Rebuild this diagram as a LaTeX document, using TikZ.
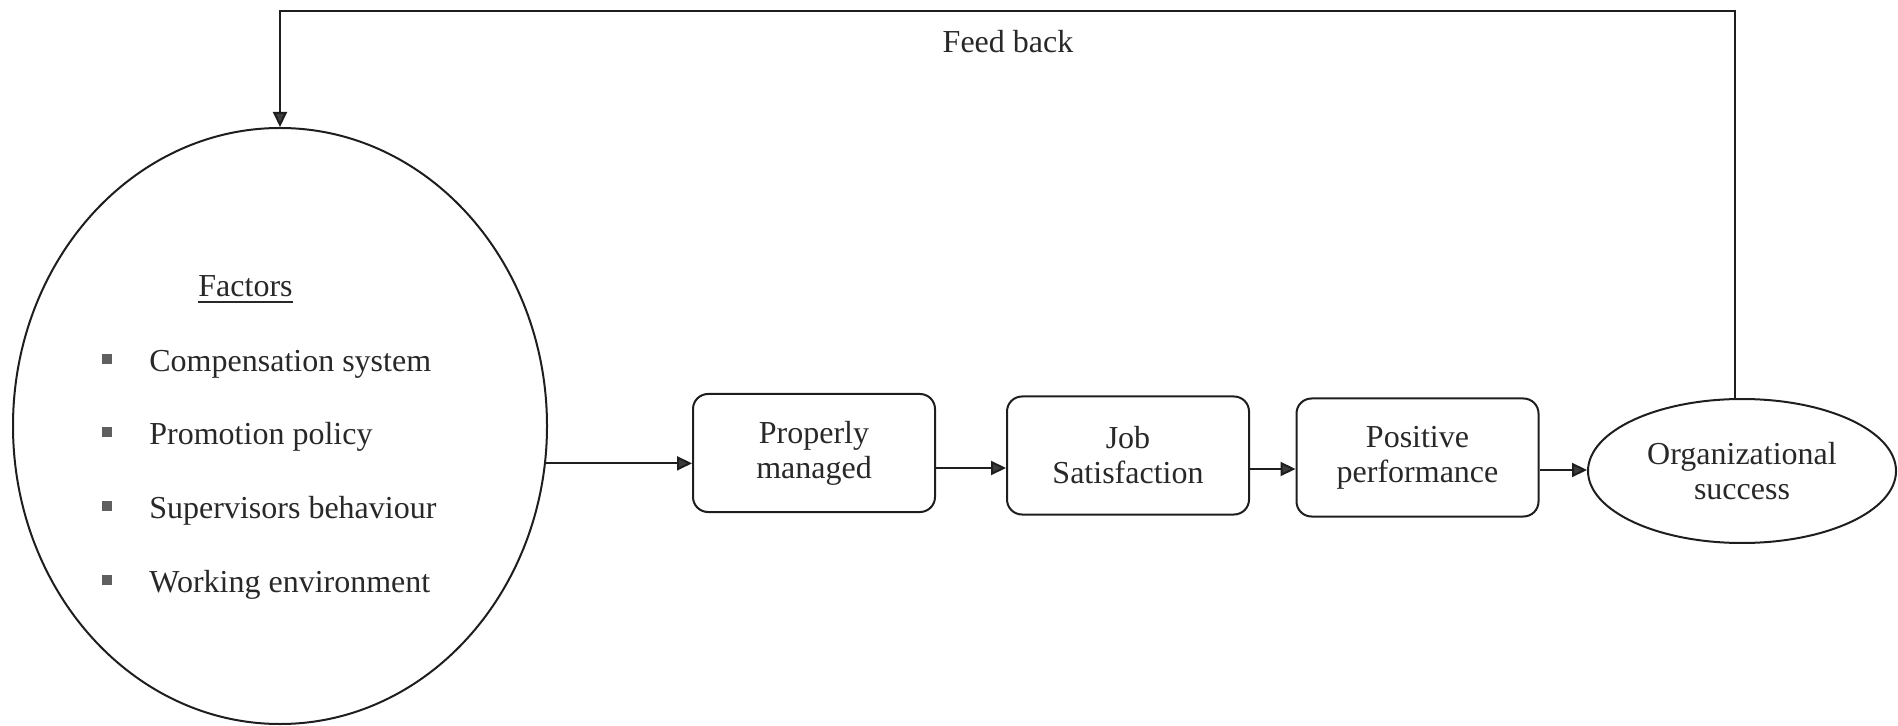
\documentclass[tikz,border=0pt]{standalone}
\usepackage{fontspec}
\setmainfont{Liberation Serif}
\usetikzlibrary{shapes.geometric,arrows.meta}
\definecolor{ink}{RGB}{30,30,30}
\definecolor{txt}{RGB}{40,40,40}
\definecolor{tipc}{RGB}{60,60,60}
\definecolor{bulc}{RGB}{95,95,95}
\begin{document}
\begin{tikzpicture}[x=0.5pt,y=-0.5pt,
  every node/.style={text=txt,font=\fontsize{16}{17.5}\selectfont},
  line/.style={draw=ink,line width=1pt},
  arr/.style={line,-{Triangle[length=7.5pt,width=7pt,fill=tipc]}},
  stepbox/.style={line,rounded corners=7.5pt,minimum width=121pt,minimum height=59pt,inner sep=0pt,align=center},
  oval/.style={line,ellipse,inner sep=0pt,align=center},
  item/.style={anchor=base west,inner sep=0pt},
  bul/.style={fill=bulc,minimum size=5pt,inner sep=0pt}
]
\useasboundingbox (0,0) rectangle (1898,726);

% factors ellipse with its list
\node[oval,minimum width=267pt,minimum height=298pt] (fac) at (280,426) {};
\node[anchor=base,inner sep=0pt] (ft) at (245.5,296.5) {Factors};
\draw[line,line width=0.6pt,draw=txt] ([yshift=-2.75pt]ft.base west) -- ([yshift=-2.75pt]ft.base east);

\node[bul] (u1) at (107,359) {};
\node[item] (i1) at (149,371.5) {Compensation system};
\node[bul] (u2) at (107,432) {};
\node[item] (i2) at (149,444.5) {Promotion policy};
\node[bul] (u3) at (107,506) {};
\node[item] (i3) at (149,518.5) {Supervisors behaviour};
\node[bul] (u4) at (107,580) {};
\node[item] (i4) at (149,592.5) {Working environment};

% process chain
\node[stepbox] (b1) at (814,453) {Properly\\managed};
\node[stepbox] (b2) at (1128,455.5) {Job\\Satisfaction};
\node[stepbox] (b3) at (1417.5,457.5) {Positive\\performance};
\node[oval,minimum width=154pt,minimum height=72pt] (org) at (1742,471) {Organizational\\success};

\draw[arr] (fac.-8) -- (fac.-8 -| b1.west);
\draw[arr] ([yshift=-7.5pt]b1.east) -- ([yshift=-7.5pt]b1.east -| b2.west);
\draw[arr] ([yshift=-6.75pt]b2.east) -- ([yshift=-6.75pt]b2.east -| b3.west);
\draw[arr] ([yshift=-6.25pt]b3.east) -- ([yshift=-6.25pt]b3.east -| org.west);

% feedback loop
\coordinate (fbtop) at (1008,11);
\draw[arr] ([xshift=-3.5pt]org.north) |- (fbtop) -| (fac.north);
\node[anchor=base,inner sep=0pt] (fb) at (1008,53) {Feed back};
\end{tikzpicture}
\end{document}
